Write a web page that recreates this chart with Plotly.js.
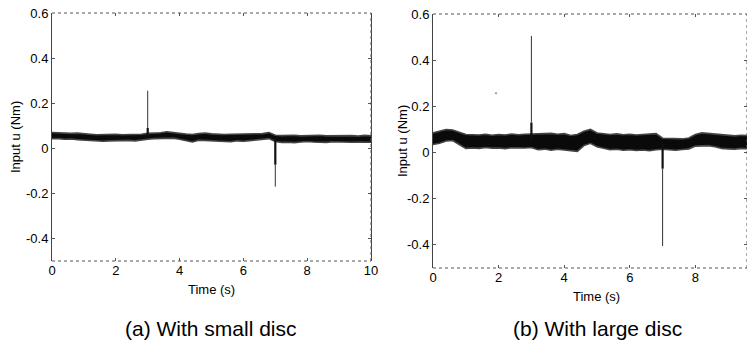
<!DOCTYPE html>
<html>
<head>
<meta charset="utf-8">
<script src="https://cdn.plot.ly/plotly-3.0.1.min.js"></script>
<style>html,body{margin:0;padding:0;background:#fff;}#chart{width:747px;height:345px;}</style>
</head>
<body>
<div id="chart"></div>
<script>
// Time grid (s)
var time = [0,0.2,0.4,0.6,0.8,1.0,1.2,1.4,1.6,1.8,2.0,2.2,2.4,2.6,2.8,3.0,3.2,3.4,3.6,3.8,4.0,4.2,4.4,4.6,4.8,5.0,5.2,5.4,5.6,5.8,6.0,6.2,6.4,6.6,6.8,7.0,7.2,7.4,7.6,7.8,8.0,8.2,8.4,8.6,8.8,9.0,9.2,9.4,9.6,9.8,10.0];

// (a) small disc: upper / lower edges of the noisy band (Nm)
var upperA = [0.070,0.068,0.069,0.066,0.067,0.063,0.062,0.060,0.061,0.060,0.062,0.060,0.061,0.059,0.062,0.066,0.066,0.069,0.073,0.071,0.066,0.063,0.061,0.065,0.068,0.064,0.062,0.061,0.062,0.063,0.061,0.064,0.063,0.065,0.070,0.058,0.056,0.057,0.058,0.055,0.057,0.056,0.058,0.055,0.056,0.057,0.055,0.056,0.054,0.057,0.055];
var lowerA = [0.042,0.043,0.040,0.041,0.038,0.036,0.033,0.030,0.031,0.033,0.034,0.032,0.035,0.033,0.035,0.040,0.043,0.044,0.046,0.045,0.040,0.033,0.028,0.036,0.035,0.034,0.032,0.030,0.029,0.033,0.031,0.034,0.036,0.038,0.043,0.030,0.026,0.027,0.025,0.028,0.030,0.028,0.027,0.026,0.029,0.028,0.026,0.027,0.028,0.029,0.027];

// (b) large disc: upper / lower edges of the noisy band (Nm)
var upperB = [0.085,0.092,0.100,0.098,0.088,0.078,0.077,0.076,0.079,0.075,0.078,0.076,0.080,0.077,0.079,0.080,0.078,0.081,0.083,0.079,0.082,0.074,0.078,0.092,0.100,0.085,0.080,0.078,0.081,0.077,0.079,0.076,0.078,0.080,0.082,0.062,0.060,0.058,0.059,0.063,0.078,0.085,0.083,0.080,0.076,0.074,0.072,0.075,0.073,0.076,0.074];
var lowerB = [0.035,0.040,0.050,0.052,0.035,0.018,0.020,0.018,0.022,0.019,0.020,0.017,0.021,0.019,0.020,0.022,0.012,0.015,0.010,0.014,0.012,0.008,0.005,0.030,0.040,0.025,0.018,0.012,0.014,0.010,0.012,0.009,0.011,0.008,0.012,0.014,0.012,0.010,0.013,0.016,0.028,0.030,0.030,0.025,0.018,0.016,0.015,0.018,0.016,0.019,0.017];

// Spikes: time, band level, end of thick part, peak
var spikeTimeA = [3.0, 7.0];
var spikeBaseA = [0.055, 0.045];
var spikeKneeA = [0.09, -0.073];
var spikePeakA = [0.255, -0.17];

var spikeTimeB = [3.0, 7.0];
var spikeBaseB = [0.05, 0.04];
var spikeKneeB = [0.13, -0.07];
var spikePeakB = [0.505, -0.405];

var strayTimeB = [1.92];
var strayValB = [0.257];

var yTicks = [-0.4,-0.2,0,0.2,0.4,0.6];
var yTickText = ['-0.4','-0.2','0','0.2','0.4','0.6'];
var xTicks = [0,2,4,6,8,10];
var xTickText = ['0','2','4','6','8','10'];

var traces = [];
function band(up, lo, xa, ya) {
  traces.push({x: time, y: lo, xaxis: xa, yaxis: ya, mode: 'lines', line: {color: '#444', width: 1.6}, hoverinfo: 'skip', showlegend: false});
  traces.push({x: time, y: up, xaxis: xa, yaxis: ya, mode: 'lines', fill: 'tonexty', fillcolor: '#0a0a0a', line: {color: '#444', width: 1.6}, hoverinfo: 'skip', showlegend: false});
}
function spikes(t, base, knee, peak, xa, ya) {
  for (var i = 0; i < t.length; i++) {
    traces.push({x: [t[i], t[i]], y: [base[i], knee[i]], xaxis: xa, yaxis: ya, mode: 'lines', line: {color: '#111', width: 2.2}, showlegend: false, hoverinfo: 'skip'});
    traces.push({x: [t[i], t[i]], y: [knee[i], peak[i]], xaxis: xa, yaxis: ya, mode: 'lines', line: {color: '#333', width: 1}, showlegend: false, hoverinfo: 'skip'});
  }
}
band(upperA, lowerA, 'x', 'y');
spikes(spikeTimeA, spikeBaseA, spikeKneeA, spikePeakA, 'x', 'y');
band(upperB, lowerB, 'x2', 'y2');
spikes(spikeTimeB, spikeBaseB, spikeKneeB, spikePeakB, 'x2', 'y2');
traces.push({x: strayTimeB, y: strayValB, xaxis: 'x2', yaxis: 'y2', mode: 'markers', marker: {color: '#888', size: 2}, showlegend: false, hoverinfo: 'skip'});

var tickFont = {family: 'Liberation Sans, Arial, sans-serif', size: 13, color: '#000'};
function xax(domain, range) {
  return {domain: domain, range: range, tickvals: xTicks, ticktext: xTickText, ticks: 'inside', ticklen: 3, tickcolor: '#555',
    mirror: 'ticks', showline: false, showgrid: false, zeroline: false, tickfont: tickFont, fixedrange: true};
}
function yax(domain, anchor) {
  return {domain: domain, anchor: anchor, range: [-0.5, 0.6], tickvals: yTicks, ticktext: yTickText, ticks: 'inside', ticklen: 3, tickcolor: '#555',
    mirror: 'ticks', showline: true, linecolor: '#444', linewidth: 1, showgrid: false, zeroline: false, tickfont: tickFont, fixedrange: true};
}
var xa1 = xax([52/747, 371/747], [0, 10]); xa1.anchor = 'y';
var xa2 = xax([433/747, 1.0], [0, 9.573]); xa2.anchor = 'y2';
var ya1 = yax([(345-261)/345, (345-13)/345], 'x');
var ya2 = yax([(345-268)/345, (345-14)/345], 'x2');

function box(xr, yr) {
  var st = {color: '#555', width: 1, dash: 'dot'};
  return [
    {type: 'line', xref: xr + ' domain', yref: yr + ' domain', x0: 0, x1: 1, y0: 1, y1: 1, line: st},
    {type: 'line', xref: xr + ' domain', yref: yr + ' domain', x0: 0, x1: 1, y0: 0, y1: 0, line: st},
    {type: 'line', xref: xr + ' domain', yref: yr + ' domain', x0: 1, x1: 1, y0: 0, y1: 1, line: st}
  ];
}

var titleFont = {family: 'Liberation Sans, Arial, sans-serif', size: 13, color: '#000'};
var capFont = {family: 'Liberation Sans, Arial, sans-serif', size: 21, color: '#000'};
var ann = [
  {text: 'Input u (Nm)', x: 15, y: 345-137, textangle: -90, showarrow: false, font: titleFont},
  {text: 'Time (s)', x: 211, y: 345-289, showarrow: false, font: titleFont},
  {text: 'Input u (Nm)', x: 402, y: 345-141, textangle: -90, showarrow: false, font: titleFont},
  {text: 'Time (s)', x: 596, y: 345-296, showarrow: false, font: titleFont},
  {text: '(a) With small disc', x: 211, y: 345-328, showarrow: false, font: capFont},
  {text: '(b) With large disc', x: 597, y: 345-328, showarrow: false, font: capFont}
];
ann.forEach(function (a) { a.xref = 'paper'; a.yref = 'paper'; a.x = a.x / 747; a.y = a.y / 345; a.xanchor = 'center'; a.yanchor = 'middle'; });

var layout = {
  width: 747, height: 345, margin: {l: 0, r: 0, t: 0, b: 0},
  paper_bgcolor: '#fff', plot_bgcolor: '#fff', showlegend: false,
  xaxis: xa1, yaxis: ya1, xaxis2: xa2, yaxis2: ya2,
  shapes: box('x', 'y').concat(box('x2', 'y2')),
  annotations: ann
};
Plotly.newPlot('chart', traces, layout, {displayModeBar: false, staticPlot: true});
</script>
</body>
</html>
